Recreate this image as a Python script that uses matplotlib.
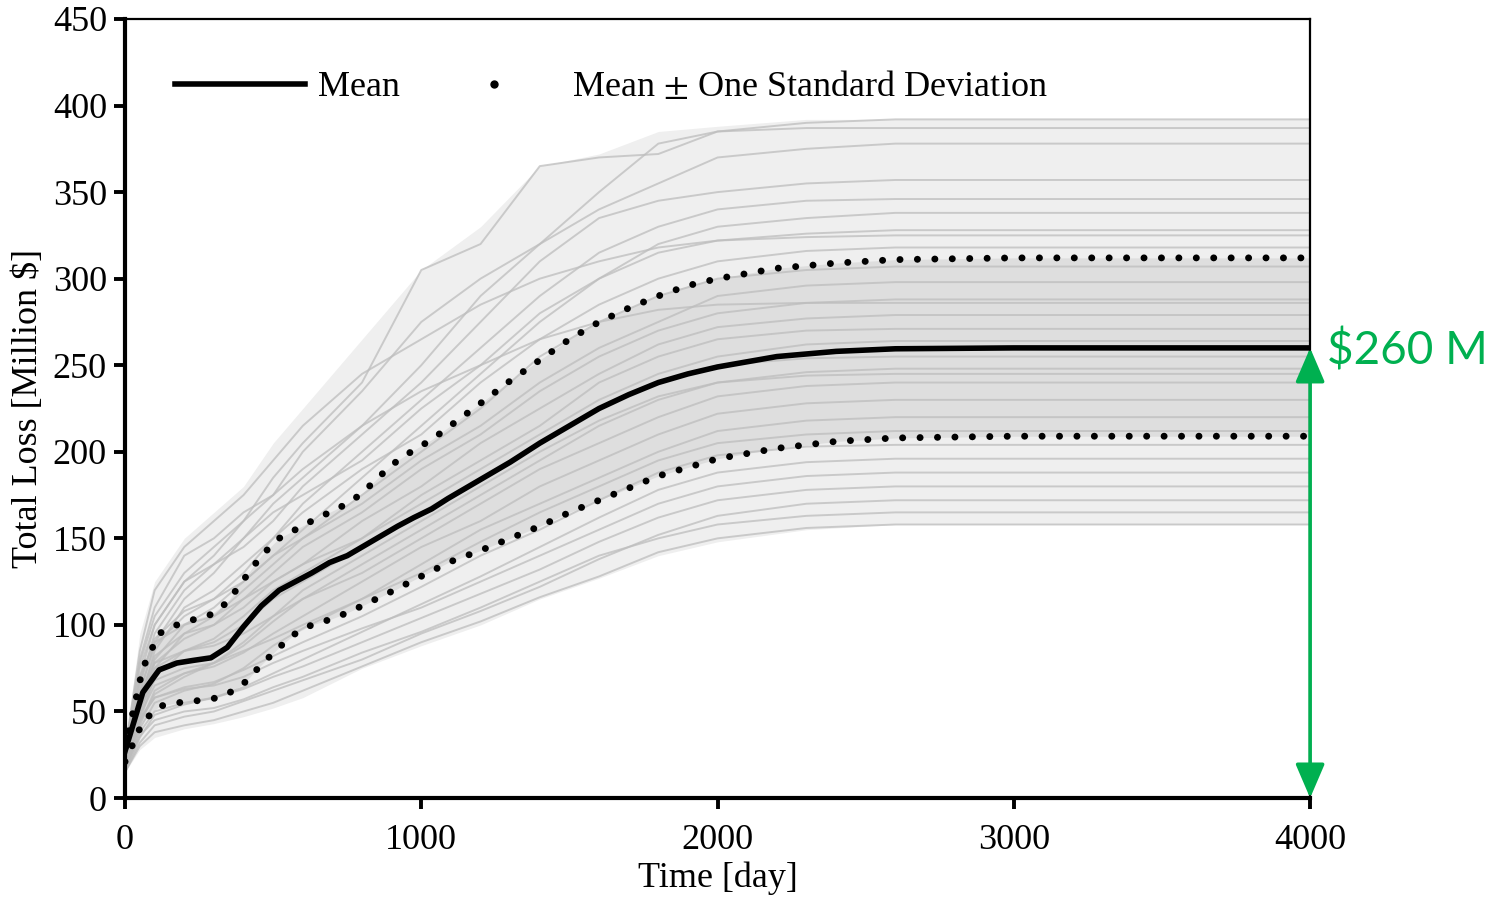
import matplotlib
matplotlib.use("Agg")
import matplotlib.pyplot as plt
from matplotlib.lines import Line2D

# time grid of the mean and +/- one standard deviation curves [day]
t_stat = [0, 60, 115, 175, 230, 290, 345, 400, 460, 520, 575, 630, 690, 750, 800,
          860, 920, 975, 1035, 1090, 1200, 1300, 1400, 1500, 1600, 1700, 1800, 1900,
          2000, 2200, 2400, 2600, 3000, 4000]
mean_loss = [27, 61, 74, 78, 79.5, 81, 87, 99, 111, 120, 125, 130, 136, 140, 145,
             151, 157, 162, 167, 173, 184, 194, 205, 215, 225, 233, 240, 245,
             249, 255, 258, 259.5, 260, 260]
upper_loss = [29, 75, 95, 100, 103, 106, 113, 126, 140, 150, 155, 160, 165, 170, 176,
              186, 195, 201, 207, 214, 228, 241, 253, 265, 275, 283, 290, 296,
              300, 306, 309, 311, 312, 312]
lower_loss = [21, 44, 53, 55, 56, 57, 60, 66, 77, 87, 95, 100, 103, 107, 111,
              116, 121, 126, 131, 136, 143, 150, 157, 165, 172, 179, 186, 191,
              196, 202, 206, 208, 209, 209]

# time grid of the individual simulation paths
t_sim = [0, 50, 100, 200, 300, 400, 500, 600, 800, 1000, 1200, 1400, 1600, 1800,
         2000, 2300, 2600, 3000, 4000]
env_high = [30, 95, 125, 150, 165, 180, 205, 225, 265, 305, 330, 365, 372, 385,
            388, 392, 392, 392, 392]
env_low = [15, 28, 35, 40, 43, 47, 52, 58, 75, 88, 100, 115, 127, 140,
           148, 155, 158, 158, 158]
sim_paths = [
    [25, 70, 100, 125, 140, 160, 185, 205, 240, 305, 320, 365, 370, 372, 385, 390, 392, 392, 392],
    [28, 80, 110, 140, 150, 165, 175, 200, 235, 275, 300, 320, 350, 378, 385, 387, 387, 387, 387],
    [22, 60, 90, 115, 130, 150, 170, 185, 215, 250, 290, 320, 340, 355, 370, 375, 378, 378, 378],
    [24, 65, 95, 120, 135, 145, 160, 180, 210, 240, 275, 310, 335, 345, 350, 355, 357, 357, 357],
    [20, 55, 85, 110, 120, 135, 150, 170, 200, 230, 260, 290, 315, 330, 340, 345, 346, 346, 346],
    [26, 75, 100, 125, 135, 150, 165, 175, 195, 225, 250, 280, 300, 320, 330, 335, 338, 338, 338],
    [21, 50, 80, 100, 110, 125, 140, 155, 185, 215, 245, 275, 300, 315, 322, 326, 328, 328, 328],
    [23, 62, 88, 105, 115, 130, 150, 165, 190, 210, 240, 265, 285, 300, 310, 316, 318, 318, 318],
    [19, 48, 75, 95, 105, 120, 135, 150, 175, 200, 225, 255, 275, 290, 300, 305, 307, 307, 307],
    [24, 68, 92, 108, 115, 125, 140, 150, 170, 195, 215, 240, 260, 275, 290, 296, 298, 298, 298],
    [20, 52, 78, 92, 100, 115, 130, 145, 165, 190, 210, 235, 255, 270, 280, 286, 288, 288, 288],
    [22, 58, 82, 95, 100, 110, 125, 135, 160, 180, 205, 225, 245, 262, 272, 277, 279, 279, 279],
    [18, 45, 70, 85, 92, 105, 120, 130, 150, 175, 195, 215, 240, 255, 265, 270, 271, 271, 271],
    [25, 70, 90, 100, 105, 115, 125, 135, 150, 170, 190, 210, 230, 245, 255, 262, 264, 264, 264],
    [20, 55, 75, 85, 90, 100, 115, 125, 145, 165, 185, 205, 225, 240, 250, 254, 255, 255, 255],
    [17, 42, 62, 72, 78, 88, 102, 115, 135, 155, 175, 195, 215, 230, 240, 246, 248, 248, 248],
    [23, 60, 78, 85, 88, 95, 105, 115, 130, 150, 170, 190, 205, 220, 232, 238, 240, 240, 240],
    [19, 48, 65, 72, 76, 84, 95, 105, 125, 145, 160, 180, 195, 210, 222, 228, 230, 230, 230],
    [16, 40, 55, 62, 66, 75, 88, 98, 115, 135, 155, 170, 185, 200, 212, 218, 220, 220, 220],
    [21, 52, 68, 75, 78, 85, 92, 100, 115, 130, 148, 165, 180, 195, 205, 210, 212, 212, 212],
    [18, 45, 58, 64, 67, 74, 82, 90, 105, 122, 140, 155, 172, 188, 198, 203, 204, 204, 204],
    [15, 35, 48, 54, 58, 64, 72, 80, 96, 112, 128, 145, 162, 178, 188, 194, 196, 196, 196],
    [19, 46, 58, 63, 65, 70, 78, 85, 98, 110, 125, 140, 155, 170, 180, 186, 188, 188, 188],
    [16, 38, 50, 55, 58, 63, 70, 76, 90, 104, 118, 132, 148, 162, 172, 178, 180, 180, 180],
    [15, 32, 42, 47, 50, 56, 62, 68, 80, 95, 108, 122, 138, 152, 163, 170, 172, 172, 172],
    [17, 36, 45, 50, 52, 57, 64, 70, 84, 96, 110, 125, 140, 150, 158, 163, 165, 165, 165],
    [15, 30, 38, 42, 45, 50, 55, 62, 76, 90, 102, 116, 128, 142, 150, 156, 158, 158, 158],
    [27, 85, 120, 145, 160, 175, 195, 215, 245, 265, 285, 300, 310, 318, 322, 324, 325, 325, 325],
    [26, 78, 105, 130, 145, 160, 175, 190, 215, 235, 250, 265, 275, 282, 285, 286, 286, 286, 286],
    [18, 44, 60, 70, 78, 90, 105, 120, 140, 160, 180, 200, 218, 232, 240, 244, 245, 245, 245],
]

final_mean = 260
green = "#00B050"
fs = 26

plt.rcParams["font.family"] = ["Liberation Serif", "DejaVu Serif"]
plt.rcParams["mathtext.fontset"] = "stix"

fig = plt.figure(figsize=(14.99, 8.99), dpi=100)
ax = fig.add_axes([0.0834, 0.1123, 0.7906, 0.8666])

# simulation cloud
ax.fill_between(t_sim, env_low, env_high, color="#efefef", lw=0, zorder=1)
ax.fill_between(t_stat, lower_loss, upper_loss, color="#dedede", lw=0, zorder=1)
for path in sim_paths:
    ax.plot(t_sim, path, color="#bdbdbd", lw=1.4, alpha=0.75, zorder=2)

ax.plot(t_stat, mean_loss, color="black", lw=4, zorder=4)
dot_style = (0, (0.01, 2.5))
ax.plot(t_stat, upper_loss, color="black", lw=5, ls=dot_style,
        dash_capstyle="round", zorder=4)
ax.plot(t_stat, lower_loss, color="black", lw=5, ls=dot_style,
        dash_capstyle="round", zorder=4)

ax.set_xlim(0, 4000)
ax.set_ylim(0, 450)
ax.set_xticks([0, 1000, 2000, 3000, 4000])
ax.set_yticks(range(0, 451, 50))
ax.tick_params(axis="both", direction="out", length=8, width=2.8,
               labelsize=fs, pad=5)
ax.tick_params(axis="x", pad=11)
for side in ["left", "bottom"]:
    ax.spines[side].set_linewidth(3)
for side in ["top", "right"]:
    ax.spines[side].set_linewidth(1.6)
for sp in ax.spines.values():
    sp.set_zorder(6)

ax.set_xlabel("Time [day]", fontsize=fs, labelpad=3)
ax.set_ylabel("Total Loss [Million \\$]", fontsize=fs, labelpad=6)

handles = [
    Line2D([], [], color="black", lw=4),
    Line2D([], [], color="black", ls="none", marker="o", markersize=5),
]
ax.legend(handles, ["Mean", "Mean $\\pm$ One Standard Deviation"],
          loc="center left", bbox_to_anchor=(0.042, 0.912), ncol=2,
          frameon=False, fontsize=fs, handlelength=3.6, handletextpad=0.36,
          columnspacing=0.8, borderpad=0, borderaxespad=0, numpoints=1)

# annotation of the final mean loss
ax.annotate("", xy=(4000, final_mean), xytext=(4000, 0),
            arrowprops=dict(arrowstyle="<|-|>,head_length=0.7,head_width=0.3",
                            mutation_scale=30, color=green, lw=2.6,
                            shrinkA=0, shrinkB=0),
            annotation_clip=False, zorder=7)
ax.annotate("\\$260 M", xy=(4000, final_mean), xytext=(12, -2),
            textcoords="offset points", color=green, fontsize=33,
            family="Lato", va="center", ha="left", annotation_clip=False)

fig.savefig("out.png", dpi=100)
